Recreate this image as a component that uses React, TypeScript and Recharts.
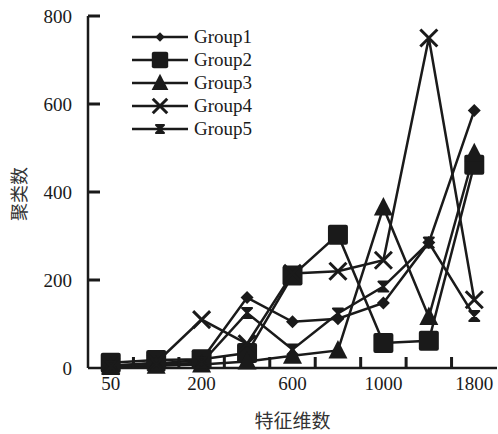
import React from 'react';
import { LineChart, Line, XAxis, YAxis, Legend, Label } from 'recharts';

const categories = ['50', '100', '200', '400', '600', '800', '1000', '1400', '1800'];
const tickLabels = ['50', '200', '600', '1000', '1800'];
const yTicks = [0, 200, 400, 600, 800];
const seriesNames = ['Group1', 'Group2', 'Group3', 'Group4', 'Group5'];
const group1 = [5, 10, 18, 160, 105, 112, 148, 285, 585];
const group2 = [12, 18, 20, 34, 210, 303, 57, 62, 462];
const group3 = [2, 5, 8, 15, 28, 40, 365, 116, 488];
const group4 = [5, 12, 110, 55, 215, 220, 245, 750, 155];
const group5 = [3, 8, 12, 125, 42, 124, 185, 285, 118];

const W = 498;
const H = 434;
const M = { top: 16, right: 1, left: 0, bottom: 0 };
const Y_AXIS_W = 88;
const X_AXIS_H = 66;
const halfBand = (W - M.left - M.right - Y_AXIS_W) / categories.length / 2;

const INK = '#1a1a1a';
const SERIF = '"Liberation Serif", "Times New Roman", serif';
const CJK = '"Noto Sans CJK SC", sans-serif';

const data = categories.map((c, i) => ({
  cat: c,
  g1: group1[i],
  g2: group2[i],
  g3: group3[i],
  g4: group4[i],
  g5: group5[i],
}));

type MarkerFn = (cx: number, cy: number, s: number) => React.ReactElement;

const diamond: MarkerFn = (cx, cy, s) => (
  <polygon
    points={`${cx},${cy - 6.5 * s} ${cx + 6.5 * s},${cy} ${cx},${cy + 6.5 * s} ${cx - 6.5 * s},${cy}`}
    fill={INK}
  />
);
const square: MarkerFn = (cx, cy, s) => (
  <rect x={cx - 10 * s} y={cy - 10 * s} width={20 * s} height={20 * s} rx={2} fill={INK} />
);
const triangle: MarkerFn = (cx, cy, s) => (
  <polygon
    points={`${cx},${cy - 10.5 * s} ${cx + 9.5 * s},${cy + 8 * s} ${cx - 9.5 * s},${cy + 8 * s}`}
    fill={INK}
  />
);
const cross: MarkerFn = (cx, cy, s) => (
  <path
    d={`M${cx - 8.5 * s},${cy - 8.5 * s}L${cx + 8.5 * s},${cy + 8.5 * s}M${cx + 8.5 * s},${cy - 8.5 * s}L${cx - 8.5 * s},${cy + 8.5 * s}`}
    stroke={INK}
    strokeWidth={3}
    fill="none"
  />
);
const hourglass: MarkerFn = (cx, cy, s) => (
  <path
    d={`M${cx - 5 * s},${cy - 5 * s}H${cx + 5 * s}L${cx - 5 * s},${cy + 5 * s}H${cx + 5 * s}Z`}
    stroke={INK}
    strokeWidth={2}
    strokeLinejoin="round"
    fill={INK}
  />
);

const markers: Record<string, MarkerFn> = {
  g1: diamond,
  g2: square,
  g3: triangle,
  g4: cross,
  g5: hourglass,
};
const legendScale: Record<string, number> = { g1: 0.72, g2: 0.82, g3: 0.88, g4: 0.85, g5: 0.8 };

const makeDot = (key: string) => (p: any) => {
  if (p.cx == null || p.cy == null) return <g key={`${key}-${p.index}`} />;
  return <g key={`${key}-${p.index}`}>{markers[key](p.cx, p.cy, 1)}</g>;
};

const BottomTick = (props: any) => {
  const x = Number(props.x);
  const y = Number(props.y);
  const { payload, index } = props;
  const hb = typeof payload?.offset === 'number' && payload.offset > 0 ? payload.offset : halfBand;
  const label = String(payload?.value);
  const show = tickLabels.includes(label);
  return (
    <g>
      {index > 0 && <rect x={x - hb - 1.5} y={y - 11} width={3} height={11} fill={INK} />}
      {show && (
        <text x={x} y={y + 22} textAnchor="middle" fontSize={19} fontFamily={SERIF} fill={INK}>
          {label}
        </text>
      )}
    </g>
  );
};

const LeftTick = (props: any) => {
  const x = Number(props.x);
  const y = Number(props.y);
  const v = props.payload?.value;
  return (
    <g>
      {v !== 0 && <rect x={x} y={y - 1.5} width={12} height={3} fill={INK} />}
      <text x={x - 16} y={y} dy="0.36em" textAnchor="end" fontSize={19} fontFamily={SERIF} fill={INK}>
        {v}
      </text>
    </g>
  );
};

const YLabel = (props: any) => {
  const vb = props.viewBox || { x: 0, y: M.top, width: Y_AXIS_W, height: H - M.top - X_AXIS_H };
  const x = vb.x + 18;
  const y = vb.y + vb.height / 2 + 2;
  return (
    <text
      x={x}
      y={y}
      transform={`rotate(-90, ${x}, ${y})`}
      textAnchor="middle"
      dominantBaseline="central"
      fontSize={18}
      fontFamily={CJK}
      fill="#333"
    >
      聚类数
    </text>
  );
};

const XLabel = (props: any) => {
  const vb = props.viewBox || { x: Y_AXIS_W, y: H - X_AXIS_H, width: W - Y_AXIS_W - 1, height: X_AXIS_H };
  return (
    <text
      x={vb.x + vb.width / 2}
      y={vb.y + vb.height - 6}
      textAnchor="middle"
      fontSize={19}
      fontFamily={CJK}
      fill="#333"
    >
      特征维数
    </text>
  );
};

const keys = ['g1', 'g2', 'g3', 'g4', 'g5'];

const renderLegend = (props: any) => {
  const payload: any[] = props.payload || [];
  const order = keys.filter((k) => payload.some((e) => e.dataKey === k));
  const list = order.length ? order : keys;
  return (
    <svg width={170} height={120}>
      {list.map((k, i) => {
        const cy = 15 + i * 23;
        return (
          <g key={k}>
            <rect x={4} y={cy - 1.25} width={56} height={2.5} fill={INK} />
            {markers[k](32, cy, legendScale[k])}
            <text x={66} y={cy} dy="0.34em" fontSize={19} fontFamily={SERIF} fill={INK}>
              {seriesNames[keys.indexOf(k)]}
            </text>
          </g>
        );
      })}
    </svg>
  );
};

export default function App() {
  return (
    <div style={{ position: 'absolute', left: 0, top: 0, background: '#fff' }}>
      <LineChart width={W} height={H} data={data} margin={M}>
        <XAxis
          dataKey="cat"
          type="category"
          scale="band"
          interval={0}
          height={X_AXIS_H}
          tickLine={false}
          tickSize={0}
          tickMargin={0}
          axisLine={{ stroke: INK, strokeWidth: 2.5 }}
          tick={BottomTick}
        >
          <Label content={XLabel} />
        </XAxis>
        <YAxis
          type="number"
          domain={[0, 800]}
          ticks={yTicks}
          interval={0}
          width={Y_AXIS_W}
          tickSize={0}
          tickMargin={0}
          tickLine={false}
          axisLine={{ stroke: INK, strokeWidth: 2.5 }}
          tick={LeftTick}
        >
          <Label content={YLabel} />
        </YAxis>
        <Legend
          verticalAlign="middle"
          align="center"
          layout="horizontal"
          wrapperStyle={{ left: 128, top: 22, width: 170, height: 120 }}
          content={renderLegend}
        />
        {keys.map((k, i) => (
          <Line
            key={k}
            dataKey={k}
            name={seriesNames[i]}
            type="linear"
            stroke={INK}
            strokeWidth={2.5}
            dot={makeDot(k)}
            activeDot={false}
            isAnimationActive={false}
          />
        ))}
      </LineChart>
    </div>
  );
}
